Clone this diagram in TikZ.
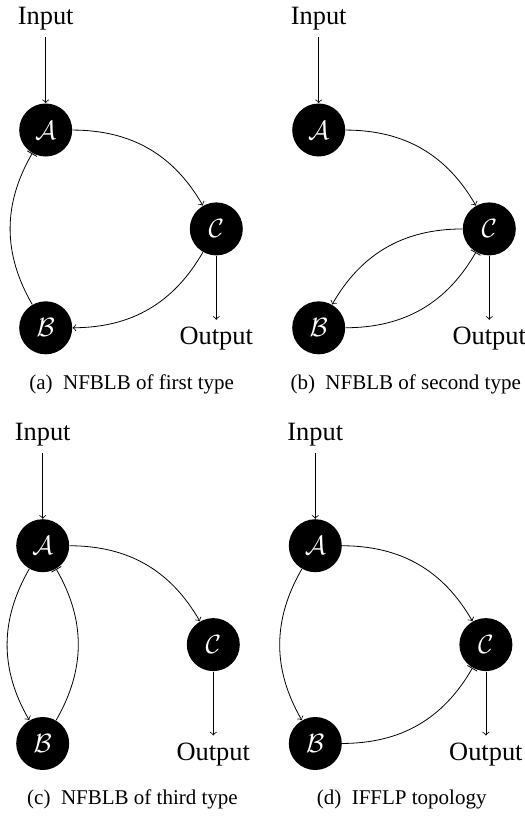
\documentclass[tikz,border=0pt]{standalone}
\usepackage{fix-cm}
\usepackage{amsmath}
\usepackage{fontspec}
\setmainfont{Liberation Serif}
\usepackage{tikz}
\usetikzlibrary{calc,positioning,arrows}

\begin{document}
\begin{tikzpicture}[
		gene/.style={shape=circle,fill=black,text=white,minimum size=26.5pt,inner sep=0pt,font=\fontsize{13.2}{16}\selectfont},
		io/.style={font=\fontsize{13.2}{16}\selectfont},
		capt/.style={font=\fontsize{10.5}{13}\selectfont}]
	\useasboundingbox (0,0) rectangle (262.5pt,-408pt);
	% (a)
	\begin{scope}[shift={(22.85pt,-65pt)}]
		\node(A) [gene] at (0,0) {$\mathcal{A}$};
		\node(B) [gene,below=72pt of A] {$\mathcal{B}$};
		\node(C) [gene] at ($(A)!0.5!(B) + (85.3pt,0)$) {$\mathcal{C}$};
		\node(inp) [io,above=33pt of A] {Input};
		\node(outp) [io,below=32pt of C] {Output};
		\node(capa) [capt] at ($(A)+(43pt,-127pt)$) {(a)\enspace NFBLB of first type};
		\path[->]
			(inp) edge (A)
			(A) edge [bend left=30] (C)
			(C) edge [bend left=30] (B)
			(C) edge (outp)
			(B) edge [bend left=30,-|] (A);
	\end{scope}
	% (b)
	\begin{scope}[shift={(159.35pt,-65pt)}]
		\node(A) [gene] at (0,0) {$\mathcal{A}$};
		\node(B) [gene,below=72pt of A] {$\mathcal{B}$};
		\node(C) [gene] at ($(A)!0.5!(B) + (85.3pt,0)$) {$\mathcal{C}$};
		\node(inp) [io,above=33pt of A] {Input};
		\node(outp) [io,below=32pt of C] {Output};
		\node(capb) [capt] at ($(A)+(43.5pt,-127pt)$) {(b)\enspace NFBLB of second type};
		\path[->]
			(inp) edge (A)
			(A) edge [bend left=30] (C)
			(C) edge [bend right=30] (B)
			(C) edge (outp)
			(B) edge [bend right=30,-|] (C);
	\end{scope}
	% (c)
	\begin{scope}[shift={(21.35pt,-272.85pt)}]
		\node(A) [gene] at (0,0) {$\mathcal{A}$};
		\node(B) [gene,below=72pt of A] {$\mathcal{B}$};
		\node(C) [gene] at ($(A)!0.5!(B) + (85.3pt,0)$) {$\mathcal{C}$};
		\node(inp) [io,above=33pt of A] {Input};
		\node(outp) [io,below=32pt of C] {Output};
		\node(capc) [capt] at ($(A)+(44.9pt,-127pt)$) {(c)\enspace NFBLB of third type};
		\path[->]
			(inp) edge (A)
			(A) edge [bend left=30] (C)
			(A) edge [bend right=30] (B)
			(C) edge (outp)
			(B) edge [bend right=30,-|] (A);
	\end{scope}
	% (d)
	\begin{scope}[shift={(157.65pt,-272.85pt)}]
		\node(A) [gene] at (0,0) {$\mathcal{A}$};
		\node(B) [gene,below=72pt of A] {$\mathcal{B}$};
		\node(C) [gene] at ($(A)!0.5!(B) + (85.3pt,0)$) {$\mathcal{C}$};
		\node(inp) [io,above=33pt of A] {Input};
		\node(outp) [io,below=32pt of C] {Output};
		\node(capd) [capt] at ($(A)+(43.2pt,-127pt)$) {(d)\enspace IFFLP topology};
		\path[->]
			(inp) edge (A)
			(A) edge [bend left=30] (C)
			(A) edge [bend right=30] (B)
			(C) edge (outp)
			(B) edge [bend right=30,-|] (C);
	\end{scope}
\end{tikzpicture}
\end{document}
